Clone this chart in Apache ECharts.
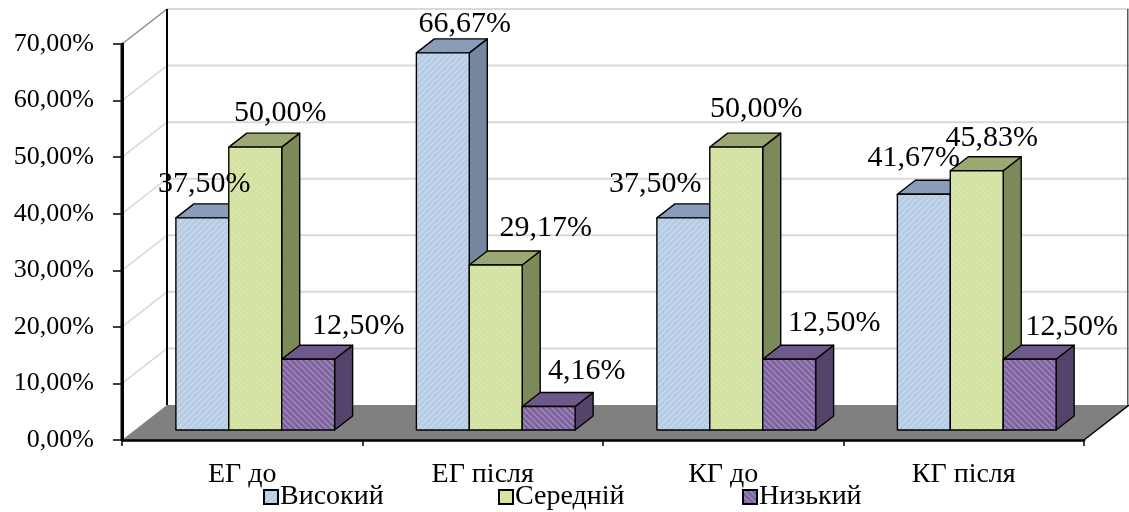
<!DOCTYPE html>
<html>
<head>
<meta charset="utf-8">
<script src="https://cdn.jsdelivr.net/npm/echarts@6/dist/echarts.min.js"></script>
<style>
html,body{margin:0;padding:0;background:#fff;}
#chart{width:1129px;height:512px;}
</style>
</head>
<body>
<div id="chart"></div>
<script>
// ---- data ----
const categories = ['ЕГ до', 'ЕГ після', 'КГ до', 'КГ після'];
const levels = ['Високий', 'Середній', 'Низький'];
const highValues = [37.50, 66.67, 37.50, 41.67];
const midValues = [50.00, 29.17, 50.00, 45.83];
const lowValues = [12.50, 4.16, 12.50, 12.50];
const yTicks = [0, 10, 20, 30, 40, 50, 60, 70];

// ---- styling ----
const FONT = 'Liberation Serif';
const BACK_DX = 45, BACK_DY = -35;   // back wall offset
const BAR_DX = 13, BAR_DY = -10;     // bar front plane offset
const DEP_DX = 18, DEP_DY = -14;     // bar depth
const labelShiftX = [[2, 22, -28, -10], [25, 50, 20, 15], [50, 38, 45, 42]];
const labelShiftY = [[0, 5, 0, -2], [0, -3, -4, 1], [1, -1, -2, 2]];
const legendLefts = [263, 498, 742];

function makePattern(base, line, kind) {
  const c = document.createElement('canvas');
  const s = 6;
  c.width = s; c.height = s;
  const g = c.getContext('2d');
  g.fillStyle = base; g.fillRect(0, 0, s, s);
  g.strokeStyle = line; g.fillStyle = line;
  if (kind === 'dots') {
    g.fillRect(1, 1, 1, 1); g.fillRect(4, 4, 1, 1);
  } else if (kind === 'up') {
    g.lineWidth = 1;
    g.beginPath();
    g.moveTo(0, s); g.lineTo(s, 0);
    g.moveTo(-s, s); g.lineTo(s, -s);
    g.moveTo(0, 2 * s); g.lineTo(2 * s, 0);
    g.stroke();
  } else {
    g.lineWidth = 1.2;
    g.beginPath();
    g.moveTo(0, 0); g.lineTo(s, s);
    g.moveTo(-s, 0); g.lineTo(s, 2 * s);
    g.moveTo(0, -s); g.lineTo(2 * s, s);
    g.stroke();
  }
  return { image: c, repeat: 'repeat' };
}

const faceStyles = [
  { front: makePattern('#b8cce4', '#d3dfee', 'up'), top: '#8a9db8', side: '#7687a0' },
  { front: makePattern('#d5e3a2', '#e8f0c8', 'dots'), top: '#9ba871', side: '#7c8959' },
  { front: makePattern('#7f63a1', '#a895c2', 'down'), top: '#6c5889', side: '#54446c' }
];
const seriesValues = [highValues, midValues, lowValues];

const fmt = v => v.toFixed(2).replace('.', ',') + '%';

function frameRender(params, api) {
  const cs = params.coordSys;
  const L = cs.x, R = cs.x + cs.width, B = cs.y + cs.height, T = cs.y;
  const v = api.value(1);
  const y = api.coord([0, v])[1];
  const children = [];
  if (params.dataIndex === 0) {
    children.push({
      type: 'polygon', z2: 0,
      shape: { points: [[L, B], [R, B], [R + BACK_DX, B + BACK_DY], [L + BACK_DX, B + BACK_DY]] },
      style: { fill: '#808080', stroke: null }
    });
    children.push({
      type: 'line', z2: 5,
      shape: { x1: R, y1: B, x2: R + BACK_DX, y2: B + BACK_DY },
      style: { stroke: '#000', lineWidth: 1.5 }
    });
    children.push({
      type: 'rect', z2: 5,
      shape: { x: L + BACK_DX - 1, y: T + BACK_DY, width: 2, height: B - T },
      style: { fill: '#000' }
    });
    children.push({
      type: 'rect', z2: 5,
      shape: { x: R + BACK_DX - 2, y: T + BACK_DY, width: 1.5, height: B - T },
      style: { fill: '#595959' }
    });
    children.push({
      type: 'rect', z2: 6,
      shape: { x: L - 1.5, y: T, width: 3, height: B - T },
      style: { fill: '#000' }
    });
  } else {
    const top = v === yTicks[yTicks.length - 1];
    children.push({
      type: 'line', z2: 1,
      shape: { x1: L + BACK_DX, y1: y + BACK_DY, x2: R + BACK_DX, y2: y + BACK_DY },
      style: { stroke: '#d9d9d9', lineWidth: 2 }
    });
    children.push({
      type: 'line', z2: 1,
      shape: { x1: L, y1: y, x2: L + BACK_DX, y2: y + BACK_DY },
      style: { stroke: top ? '#8c8c8c' : '#d9d9d9', lineWidth: 1.5 }
    });
  }
  return { type: 'group', children: children };
}

function barRender(level) {
  return function (params, api) {
    const j = api.value(0), v = api.value(1);
    const base = api.coord([j, 0]);
    const topP = api.coord([j, v]);
    const catW = api.size([1, 0])[0];
    const bw = catW * 0.22;
    const x0 = base[0] + BAR_DX - 1.5 * bw + level * bw;
    const x1 = x0 + bw;
    const yb = base[1] + BAR_DY;
    const yt = topP[1] + BAR_DY;
    const st = faceStyles[level];
    const edge = { stroke: '#000', lineWidth: 1.4, lineJoin: 'round' };
    return {
      type: 'group',
      children: [
        { type: 'polygon', shape: { points: [[x1, yt], [x1 + DEP_DX, yt + DEP_DY], [x1 + DEP_DX, yb + DEP_DY], [x1, yb]] },
          style: Object.assign({ fill: st.side }, edge) },
        { type: 'polygon', shape: { points: [[x0, yt], [x1, yt], [x1 + DEP_DX, yt + DEP_DY], [x0 + DEP_DX, yt + DEP_DY]] },
          style: Object.assign({ fill: st.top }, edge) },
        { type: 'rect', shape: { x: x0, y: yt, width: bw, height: yb - yt },
          style: Object.assign({ fill: st.front }, edge) }
      ]
    };
  };
}

function labelRender(params, api) {
  const j = api.value(0), v = api.value(1), lvl = api.value(2);
  const p = api.coord([j, v]);
  const catW = api.size([1, 0])[0];
  const bw = catW * 0.22;
  const cx = p[0] + BAR_DX + (lvl - 1) * bw + labelShiftX[lvl][j];
  const cy = p[1] + BAR_DY + DEP_DY - 20 + labelShiftY[lvl][j];
  return {
    type: 'text',
    style: { text: fmt(v), x: cx, y: cy, fill: '#000', font: '30px "' + FONT + '"', align: 'center', verticalAlign: 'middle' }
  };
}

const labelData = [];
seriesValues.forEach((vals, i) => vals.forEach((v, j) => labelData.push([j, v, i])));

const series = [{
  type: 'custom', name: 'frame', z: 1, silent: true, clip: false,
  renderItem: frameRender,
  data: yTicks.map(t => [0, t])
}];
levels.forEach((name, i) => {
  series.push({
    type: 'custom', name: name, z: 3 + i,
    renderItem: barRender(i),
    itemStyle: { color: faceStyles[i].front, borderColor: '#000', borderWidth: 2 },
    data: seriesValues[i].map((v, j) => [j, v])
  });
});
series.push({ type: 'custom', name: 'labels', z: 20, silent: true, renderItem: labelRender, data: labelData });

const legends = levels.map((name, i) => ({
  data: [name], left: legendLefts[i], top: 483, icon: 'rect', itemWidth: 14, itemHeight: 14, itemGap: 0,
  selectedMode: false, padding: 0,
  textStyle: { fontFamily: FONT, fontSize: 28, color: '#000', padding: [2, 0, 0, -3] }
}));

const chart = echarts.init(document.getElementById('chart'), null, { renderer: 'canvas' });
chart.setOption({
  animation: false,
  backgroundColor: '#fff',
  grid: { left: 122, right: 45, top: 44, bottom: 72 },
  legend: legends,
  xAxis: {
    type: 'category', data: categories, z: 10,
    axisLine: { lineStyle: { color: '#000', width: 2.5 } },
    axisTick: { show: true, length: 6, lineStyle: { color: '#000', width: 1.5 } },
    axisLabel: { fontFamily: FONT, fontSize: 28, color: '#000', margin: 21 },
    splitLine: { show: false }
  },
  yAxis: {
    type: 'value', min: 0, max: 70, interval: 10, z: 10,
    axisLine: { show: true, onZero: false, lineStyle: { color: '#000', width: 3 } },
    axisTick: { show: true, length: 9, lineStyle: { color: '#000', width: 1.5 } },
    axisLabel: { fontFamily: FONT, fontSize: 26, color: '#000', margin: 28, formatter: v => fmt(v) },
    splitLine: { show: false }
  },
  series: series
});
</script>
</body>
</html>
